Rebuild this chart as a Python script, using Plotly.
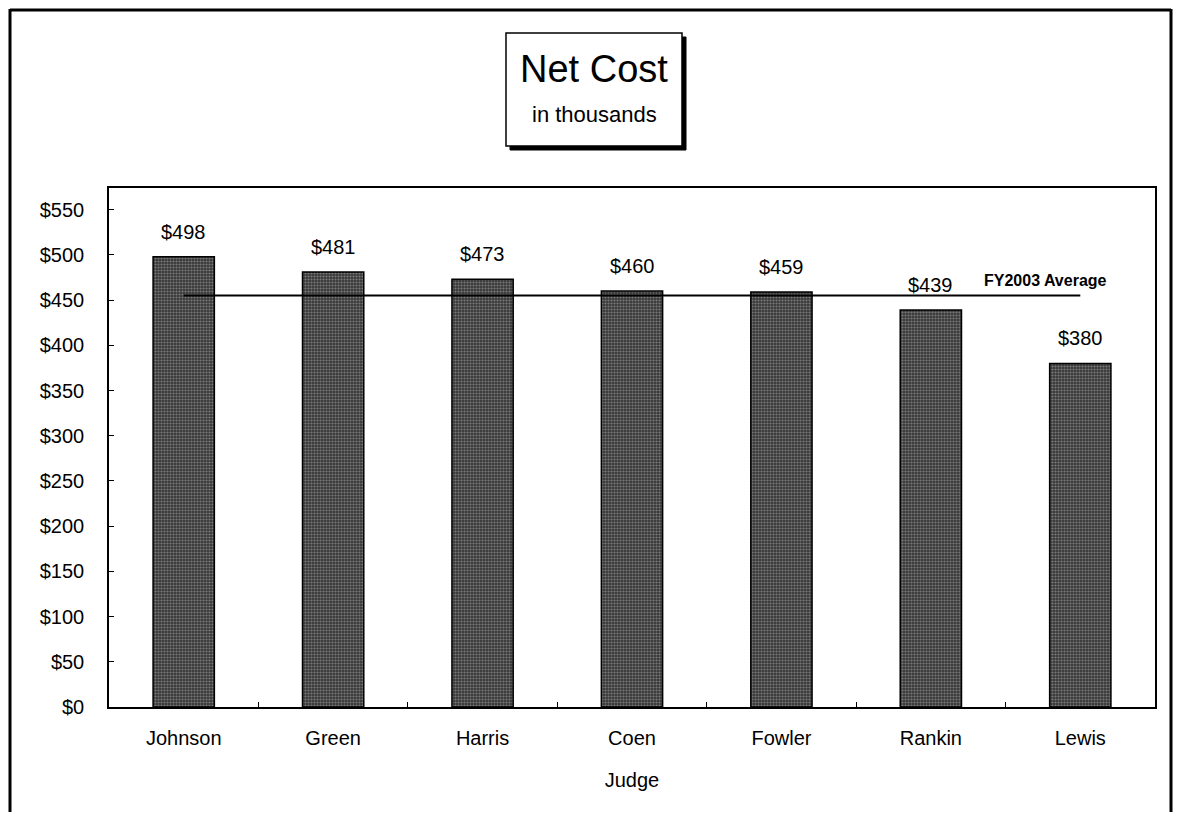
import plotly.graph_objects as go

judges = ["Johnson", "Green", "Harris", "Coen", "Fowler", "Rankin", "Lewis"]
net_cost = [498, 481, 473, 460, 459, 439, 380]
label_text = ["$498", "$481", "$473", "$460", "$459", "$439", "$380"]
fy2003_average = 455
y_ticks = [0, 50, 100, 150, 200, 250, 300, 350, 400, 450, 500, 550]
y_tick_text = ["$" + str(v) for v in y_ticks]

FONT = "Liberation Sans, Arial, sans-serif"

# page body has an 8px margin; the figure is sized to fit inside it
OFF = 8
W, H = 1181 - 2 * OFF, 820 - 2 * OFF
PLOT_L, PLOT_R, PLOT_T, PLOT_B = 109, 1155, 188, 707  # window pixels


def px_x(p):
    return (p - PLOT_L) / float(PLOT_R - PLOT_L)


def px_y(p):
    return (PLOT_B - p) / float(PLOT_B - PLOT_T)


fig = go.Figure()
fig.add_trace(go.Bar(
    x=judges, y=net_cost, width=0.41,
    marker=dict(color="#4a4a4a", line=dict(color="#000", width=1.5),
                pattern=dict(shape=".", fgcolor="#bdbdbd", bgcolor="#383838", size=3, solidity=0.4)),
    showlegend=False, hoverinfo="x+y",
))
fig.add_trace(go.Scatter(
    x=[judges[0], judges[-1]], y=[fy2003_average, fy2003_average],
    mode="lines", line=dict(color="#000", width=2), showlegend=False,
))

annotations = []
for j, v, t in zip(judges, net_cost, label_text):
    annotations.append(dict(x=j, y=v, text=t, showarrow=False, yanchor="bottom",
                            yshift=12, font=dict(family=FONT, size=20, color="#000")))
annotations.append(dict(x=judges[-1], y=fy2003_average, text="<b>FY2003 Average</b>",
                        showarrow=False, xanchor="center", xshift=-35, yanchor="bottom", yshift=5,
                        font=dict(family=FONT, size=16, color="#000")))
# Title box text
annotations.append(dict(xref="paper", yref="paper", x=px_x(594), y=px_y(69), text="Net Cost",
                        showarrow=False, xanchor="center", yanchor="middle",
                        font=dict(family=FONT, size=38, color="#000")))
annotations.append(dict(xref="paper", yref="paper", x=px_x(594), y=px_y(114), text="in thousands",
                        showarrow=False, xanchor="center", yanchor="middle",
                        font=dict(family=FONT, size=22, color="#000")))

frame_line = dict(color="#000", width=3)
shapes = [
    # outer frame (left, top, right; bottom runs off the page)
    dict(type="line", xref="paper", yref="paper", x0=px_x(10), x1=px_x(10), y0=px_y(813), y1=px_y(9),
         line=frame_line),
    dict(type="line", xref="paper", yref="paper", x0=px_x(10), x1=px_x(1171), y0=px_y(10), y1=px_y(10),
         line=frame_line),
    dict(type="line", xref="paper", yref="paper", x0=px_x(1171), x1=px_x(1171), y0=px_y(813), y1=px_y(9),
         line=frame_line),
    # title box shadow
    dict(type="rect", xref="paper", yref="paper", x0=px_x(510), x1=px_x(686), y0=px_y(150), y1=px_y(37),
         line=dict(color="#000", width=1), fillcolor="#000"),
    # title box
    dict(type="rect", xref="paper", yref="paper", x0=px_x(506), x1=px_x(682), y0=px_y(146), y1=px_y(33),
         line=dict(color="#000", width=1.5), fillcolor="#fff"),
]

fig.update_layout(
    width=W, height=H,
    margin=dict(l=PLOT_L - OFF, r=W - (PLOT_R - OFF), t=PLOT_T - OFF, b=H - (PLOT_B - OFF)),
    paper_bgcolor="#fff", plot_bgcolor="#fff",
    font=dict(family=FONT, size=20, color="#000"),
    annotations=annotations,
    shapes=shapes,
    xaxis=dict(
        showline=True, linecolor="#000", linewidth=2, mirror=True,
        ticks="inside", ticklen=5, tickcolor="#000", tickson="boundaries",
        showgrid=False, ticklabelstandoff=12,
        tickfont=dict(family=FONT, size=20, color="#000"),
        title=dict(text="Judge", standoff=25, font=dict(family=FONT, size=20, color="#000")),
    ),
    yaxis=dict(
        range=[0, 574], showline=True, linecolor="#000", linewidth=1.5, mirror=True,
        ticks="inside", ticklen=5, tickcolor="#000",
        tickvals=y_ticks, ticktext=y_tick_text, showgrid=False, zeroline=False,
        ticklabelstandoff=19,
        tickfont=dict(family=FONT, size=20, color="#000"),
    ),
)

fig.write_html("out.html")
